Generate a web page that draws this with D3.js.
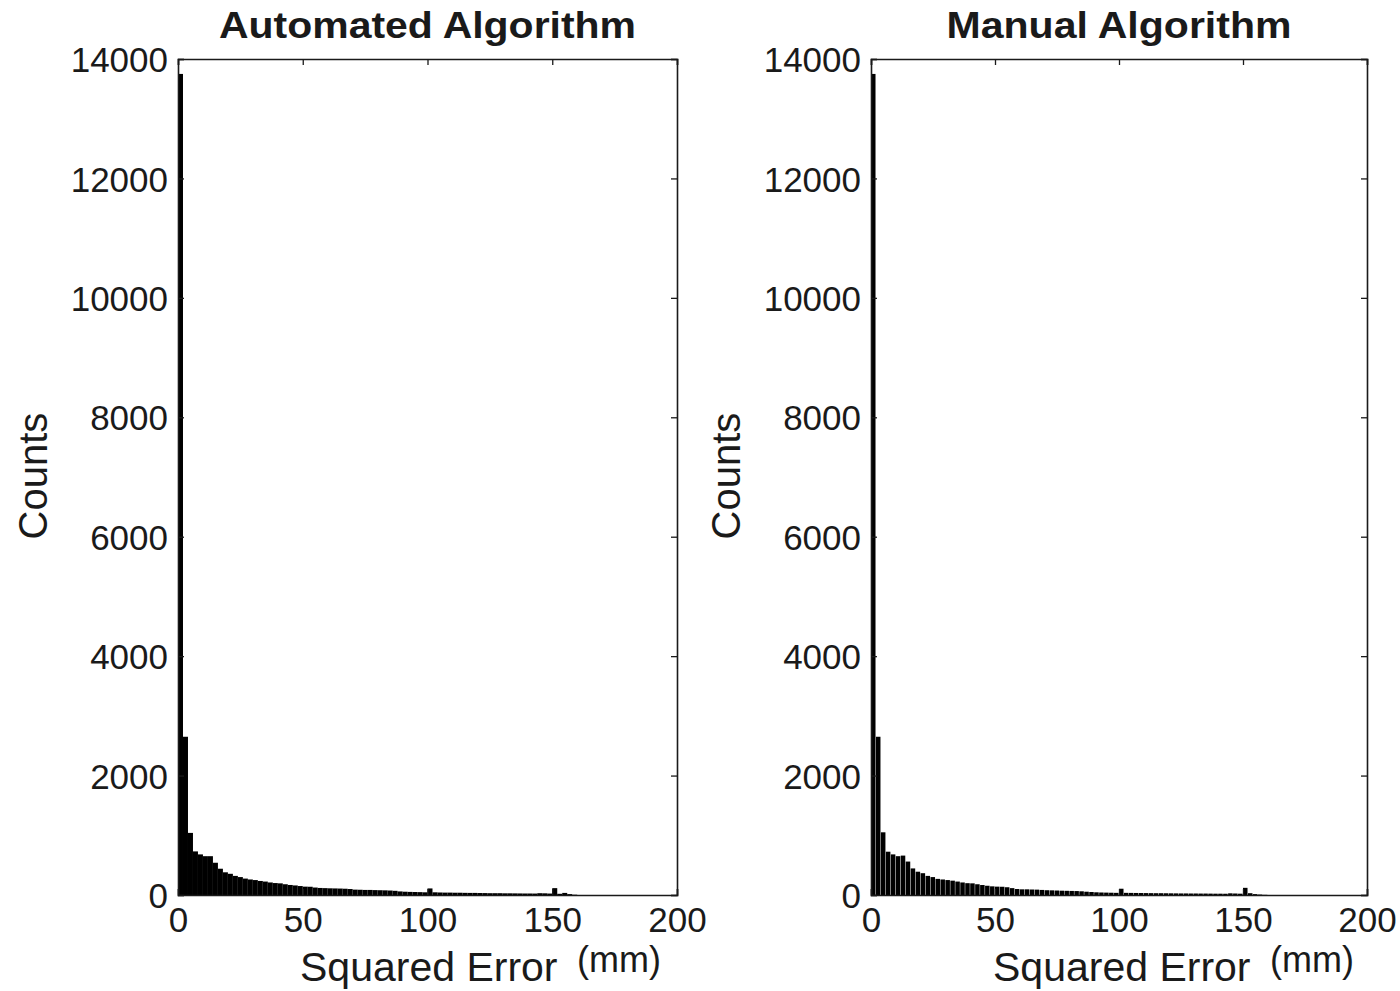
<!DOCTYPE html>
<html>
<head>
<meta charset="utf-8">
<script src="https://cdn.jsdelivr.net/npm/d3@7"></script>
<style>
  html, body { margin: 0; padding: 0; background: #fff; }
  svg { display: block; }
  text { font-family: "Liberation Sans", Arial, Helvetica, sans-serif; fill: #1a1a1a; }
</style>
</head>
<body>
<svg id="chart" width="1400" height="991"></svg>
<script>
// ---------------- DATA ----------------
const panelTitles = ["Automated Algorithm", "Manual Algorithm"];
const binWidth = 2; // mm per histogram bin, first bin starts at 0
const automatedCounts = [
  13750, 2650, 1040, 730, 680, 650, 650, 540, 440, 380,
  355, 320, 300, 275, 260, 250, 235, 225, 210, 200,
  195, 180, 168, 160, 150, 140, 138, 125, 118, 115,
  112, 110, 108, 105, 100, 90, 88, 85, 85, 82,
  80, 78, 75, 70, 60, 55, 52, 50, 48, 45,
  110, 45, 42, 40, 40, 38, 38, 36, 35, 35,
  33, 32, 30, 30, 30, 28, 28, 27, 26, 25,
  25, 24, 30, 28, 24, 115, 20, 35, 15, 5
];
const manualCounts = [
  13750, 2650, 1050, 725, 680, 650, 660, 560, 445, 390,
  365, 320, 300, 270, 260, 250, 240, 225, 210, 198,
  195, 180, 167, 155, 145, 140, 138, 130, 115, 100,
  95, 95, 92, 90, 85, 80, 78, 75, 72, 70,
  68, 66, 62, 55, 50, 45, 42, 40, 38, 36,
  105, 36, 35, 34, 33, 32, 31, 30, 30, 29,
  28, 27, 26, 26, 25, 25, 24, 24, 23, 22,
  22, 21, 28, 25, 22, 120, 30, 15, 8, 3
];
const xTicks = [0, 50, 100, 150, 200];
const yTicks = [0, 2000, 4000, 6000, 8000, 10000, 12000, 14000];
const xDomain = [0, 200];
const yDomain = [0, 14000];
const xLabel = "Squared Error";
const unitLabel = "(mm)";
const yLabel = "Counts";

// ---------------- LAYOUT ----------------
const panels = [
  { title: panelTitles[0], titleW: 417, counts: automatedCounts, left: 178, right: 677, gap: false },
  { title: panelTitles[1], titleW: 345, counts: manualCounts,   left: 871, right: 1367, gap: true }
];
const plotTop = 59, plotBottom = 895;
const ink = "#1a1a1a";
const svg = d3.select("#chart");

panels.forEach(p => {
  const x = d3.scaleLinear().domain(xDomain).range([p.left, p.right]);
  const y = d3.scaleLinear().domain(yDomain).range([plotBottom, plotTop]);
  const g = svg.append("g");

  // bars
  g.append("g").selectAll("rect")
    .data(p.counts)
    .join("rect")
    .attr("x", (d, i) => x(i * binWidth))
    .attr("width", (d, i) => Math.max(0.5, x((i + 1) * binWidth) - x(i * binWidth) - (p.gap ? 0.45 : 0)))
    .attr("y", d => y(d))
    .attr("height", d => y(0) - y(d))
    .attr("fill", "#000");

  // axes (MATLAB-style, ticks inward, box)
  const tickLen = 6;
  const axB = g.append("g").attr("transform", `translate(0,${plotBottom})`)
    .call(d3.axisBottom(x).tickValues(xTicks).tickSize(-tickLen).tickPadding(12).tickFormat(d3.format("d")));
  const axT = g.append("g").attr("transform", `translate(0,${plotTop})`)
    .call(d3.axisTop(x).tickValues(xTicks).tickSize(-tickLen).tickFormat(""));
  const axL = g.append("g").attr("transform", `translate(${p.left},0)`)
    .call(d3.axisLeft(y).tickValues(yTicks).tickSize(-tickLen).tickPadding(10).tickFormat(d3.format("d")));
  const axR = g.append("g").attr("transform", `translate(${p.right},0)`)
    .call(d3.axisRight(y).tickValues(yTicks).tickSize(-tickLen).tickFormat(""));
  [axB, axT, axL, axR].forEach(a => {
    a.select(".domain").attr("stroke", ink).attr("stroke-width", 1.6);
    a.selectAll(".tick line").attr("stroke", ink).attr("stroke-width", 1.3);
    a.selectAll("text").attr("fill", ink).style("font-size", "35px")
      .style("font-family", '"Liberation Sans", Arial, sans-serif');
  });
  axB.selectAll("text").attr("dy", "0.72em");
  axL.selectAll("text").attr("dy", "0.36em");

  // title
  const cx = (p.left + p.right) / 2;
  g.append("text")
    .attr("x", cx).attr("y", 38)
    .attr("text-anchor", "middle")
    .attr("textLength", p.titleW)
    .attr("lengthAdjust", "spacingAndGlyphs")
    .style("font-size", "36px").style("font-weight", "bold")
    .text(p.title);

  // x label
  g.append("text")
    .attr("x", p.left + 122).attr("y", 981)
    .style("font-size", "41px")
    .text(xLabel);
  g.append("text")
    .attr("x", p.left + 399).attr("y", 972)
    .style("font-size", "36px")
    .text(unitLabel);

  // y label
  g.append("text")
    .attr("transform", `translate(${p.left - 131},476) rotate(-90)`)
    .attr("text-anchor", "middle")
    .style("font-size", "40px")
    .text(yLabel);
});
</script>
</body>
</html>
